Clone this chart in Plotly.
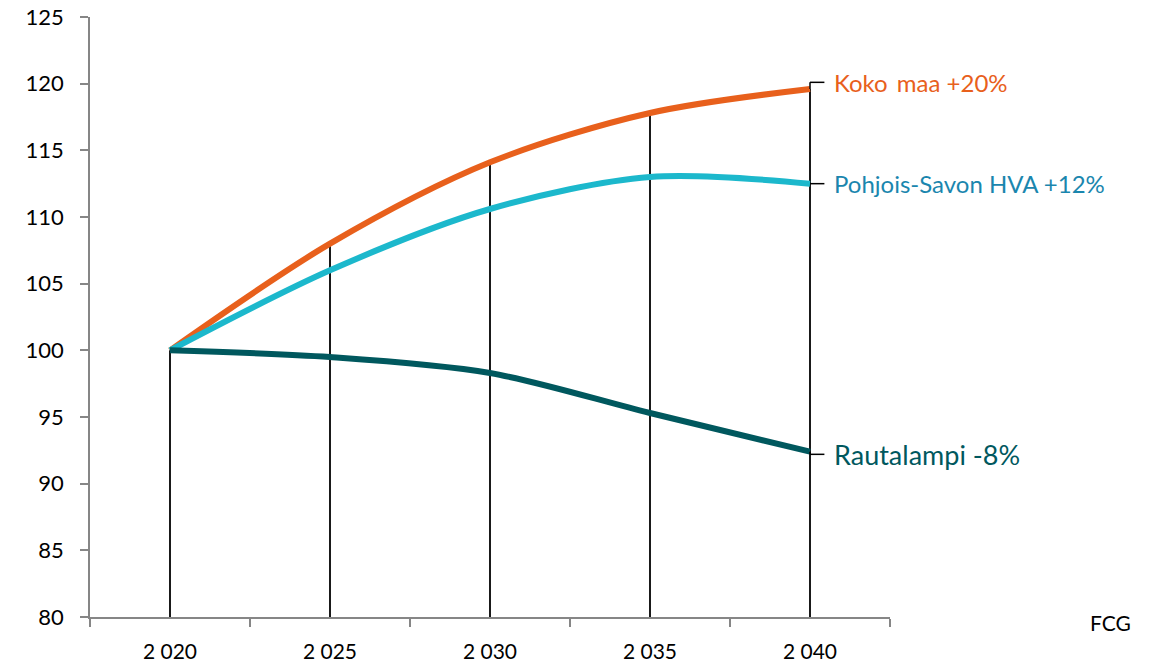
import plotly.graph_objects as go

years = ["2 020", "2 025", "2 030", "2 035", "2 040"]
koko_maa = [100, 108.0, 114.1, 117.8, 119.6]
pohjois_savo = [100, 106.0, 110.6, 113.0, 112.5]
rautalampi = [100, 99.5, 98.3, 95.3, 92.4]

names = ["Koko\u2009 maa +20%", "Pohjois-Savon HVA +12%", "Rautalampi -8%"]
series = [koko_maa, pohjois_savo, rautalampi]
line_colors = ["#E8601C", "#1CB8CC", "#00585E"]
text_colors = ["#E8601C", "#1A86AE", "#00585E"]
label_sizes = [24, 24, 27]
label_offsets = [0.5, 0.0, -0.2]

# plot area wanted at screen x 90..890, y 17..617 (body margin removed)
L, T = 90, 17
R = 1153 - 890
B = 664 - 617
PW, PH = 800, 600

fig = go.Figure()

for i, yr in enumerate(years):
    top = max(s[i] for s in series)
    fig.add_trace(go.Scatter(x=[yr, yr], y=[80, top], mode="lines",
                             line=dict(color="black", width=1.8),
                             hoverinfo="skip", showlegend=False))

for name, s, c in zip(names, series, line_colors):
    fig.add_trace(go.Scatter(x=years, y=s, mode="lines", name=name,
                             line=dict(color=c, width=6, shape="spline", smoothing=0.9),
                             showlegend=False))

last = len(years) - 1
for name, s, tc, fs, off in zip(names, series, text_colors, label_sizes, label_offsets):
    ly = s[-1] + off
    fig.add_shape(type="line", xref="x", yref="y", x0=last, x1=last, y0=s[-1], y1=ly,
                  line=dict(color="black", width=1.5))
    fig.add_shape(type="line", xref="x", yref="y", x0=last, x1=last + 0.09, y0=ly, y1=ly,
                  line=dict(color="black", width=1.5))
    fig.add_annotation(x=last, y=ly, xref="x", yref="y", text=name, showarrow=False,
                       xanchor="left", yanchor="middle", xshift=22,
                       font=dict(family="Lato", size=fs, color=tc))

fig.add_annotation(xref="paper", yref="paper", x=(1110 - 90) / PW, y=(617 - 622) / PH,
                   text="FCG", showarrow=False, xanchor="center", yanchor="middle",
                   font=dict(family="Lato", size=21, color="black"))

fig.update_layout(
    width=1153, height=664,
    margin=dict(l=L, r=R, t=T, b=B),
    paper_bgcolor="white", plot_bgcolor="white",
    font=dict(family="Lato", size=22, color="black"),
    xaxis=dict(type="category", tickson="boundaries", ticks="outside", ticklen=8,
               tickcolor="#868686", tickwidth=1.5, showline=True, linecolor="#868686",
               linewidth=1.5, showgrid=False, zeroline=False, range=[-0.5, 4.5],
               ticklabelstandoff=15, automargin=False, ticklabeloverflow="allow",
               tickfont=dict(size=21)),
    yaxis=dict(range=[80, 125], tickvals=[80, 85, 90, 95, 100, 105, 110, 115, 120, 125],
               ticks="outside", ticklen=8, tickcolor="#868686", tickwidth=1.5,
               showline=True, linecolor="#868686", linewidth=1.5, showgrid=False,
               zeroline=False, ticklabelstandoff=12, automargin=False,
               ticklabeloverflow="allow"),
)

fig.write_html("out.html", config={"displayModeBar": False},
               post_script="document.body.style.margin='0';document.body.style.overflow='hidden';")
